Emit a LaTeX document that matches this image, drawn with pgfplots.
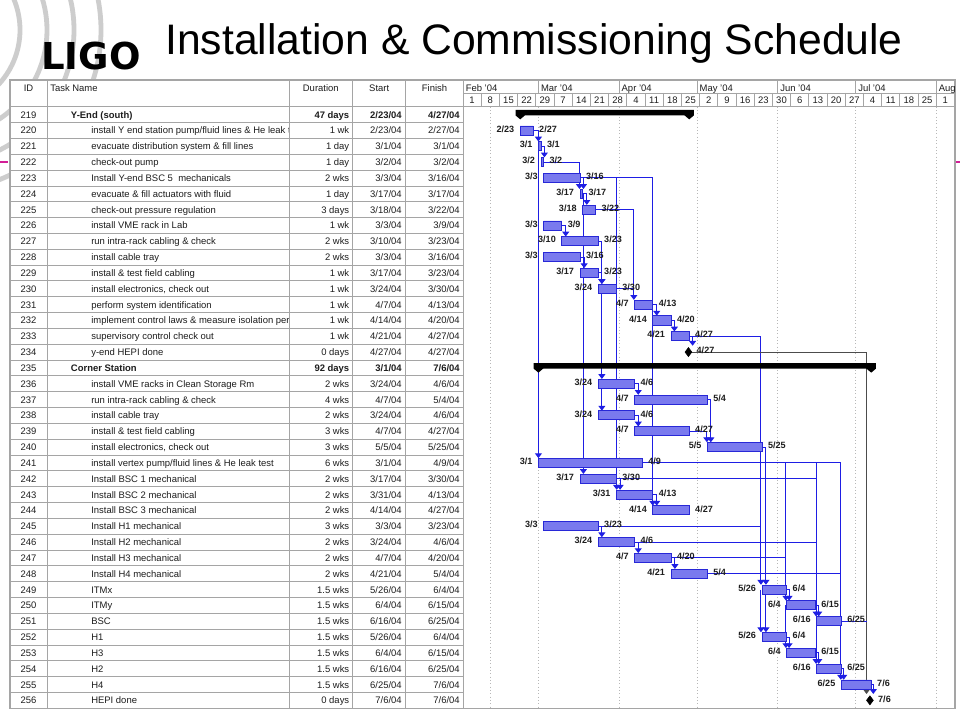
\documentclass[border=0pt]{standalone}
\usepackage{fontspec}
\setmainfont{Liberation Sans}
\newfontfamily\logofont{DejaVu Sans}
\usepackage{pgfplots}
\pgfplotsset{compat=1.18}
\usepackage{pgfplotstable}
\usetikzlibrary{arrows.meta}

\definecolor{barfill}{RGB}{122,122,238}
\definecolor{bardraw}{RGB}{40,40,215}
\definecolor{linkblue}{RGB}{30,30,228}
\definecolor{gridgray}{RGB}{165,165,165}
\definecolor{arcgray}{RGB}{205,205,205}
\definecolor{magenta2}{RGB}{210,30,150}
\definecolor{txt}{RGB}{30,30,30}

\newcommand{\tabfont}{\fontsize{7.1pt}{8.5pt}\selectfont}
\newcommand{\lblfont}{\fontsize{6.8pt}{8pt}\selectfont\bfseries}

% regular tasks: row index, start day, end day (days since 1 Feb 2004), labels
\pgfplotstableread{
row s e sl el
1 22 27 2/23 2/27
2 29 30 3/1 3/1
3 30 31 3/2 3/2
4 31 45 3/3 3/16
5 45 46 3/17 3/17
6 46 51 3/18 3/22
7 31 38 3/3 3/9
8 38 52 3/10 3/23
9 31 45 3/3 3/16
10 45 52 3/17 3/23
11 52 59 3/24 3/30
12 66 73 4/7 4/13
13 73 80 4/14 4/20
14 80 87 4/21 4/27
17 52 66 3/24 4/6
18 66 94 4/7 5/4
19 52 66 3/24 4/6
20 66 87 4/7 4/27
21 94 115 5/5 5/25
22 29 69 3/1 4/9
23 45 59 3/17 3/30
24 59 73 3/31 4/13
25 73 87 4/14 4/27
26 31 52 3/3 3/23
27 52 66 3/24 4/6
28 66 80 4/7 4/20
29 80 94 4/21 5/4
30 115 124.5 5/26 6/4
31 124.5 135.5 6/4 6/15
32 136 145.5 6/16 6/25
33 115 124.5 5/26 6/4
34 124.5 135.5 6/4 6/15
35 136 145.5 6/16 6/25
36 145.5 157 6/25 7/6
}\tasks

\pgfplotstableread{
row d l
15 86.7 4/27
37 156.5 7/6
}\miles

\pgfplotsset{
  gantt/.style={at={(0pt,0pt)}, anchor=north west, scale only axis,
    width=720pt, height=540pt,
    xmin=-178.077, xmax=191.154, ymin=-7.2394, ymax=38.2438,
    y dir=reverse, hide axis, clip=false},
  lnk/.style={color=linkblue, line width=0.75pt, mark=none, -{Triangle[width=5.2pt,length=3.6pt]}},
  lnkplain/.style={color=linkblue, line width=0.75pt, mark=none},
  lnkgray/.style={color=black!70, line width=0.75pt, mark=none, -{Triangle[width=5.2pt,length=3.6pt]}},
}

\newcommand{\trow}[6]{%
  \pgfmathsetmacro{\yy}{114.6+15.83*#1}%
  \node[anchor=mid] at (28.6,\yy) {#2};%
  \begin{scope}\clip (48,\yy-7) rectangle (288.5,\yy+7);
    \node[anchor=mid west] at (91,\yy) {#3};
  \end{scope}
  \node[anchor=mid east] at (349.5,\yy) {#4};
  \node[anchor=mid east] at (402,\yy) {#5};
  \node[anchor=mid east] at (460,\yy) {#6};
}
\newcommand{\srow}[6]{%
  \pgfmathsetmacro{\yy}{114.6+15.83*#1}%
  \node[anchor=mid] at (28.6,\yy) {#2};%
  \node[anchor=mid west,font=\tabfont\bfseries] at (70.7,\yy) {#3};
  \node[anchor=mid east,font=\tabfont\bfseries] at (349.5,\yy) {#4};
  \node[anchor=mid east,font=\tabfont\bfseries] at (402,\yy) {#5};
  \node[anchor=mid east,font=\tabfont\bfseries] at (460,\yy) {#6};
}

\begin{document}
\begin{tikzpicture}
\useasboundingbox (0pt,0pt) rectangle (720pt,-540pt);
\begin{scope}[x=0.75pt,y=-0.75pt]
  \fill[white] (0,0) rectangle (960,720);
  % logo arcs
  \begin{scope}
    \clip (0,0) rectangle (960,720);
    \foreach \r in {80,107,134,161}
      \draw[arcgray, line width=3.6pt] (-60,30) circle[radius=\r];
  \end{scope}
  % slide marks
  \draw[magenta2, line width=2.2pt] (0,162) -- (8,162);
  \draw[magenta2, line width=2.2pt] (952,162) -- (960,162);
  % title and logo
  \node[anchor=base west, inner sep=0pt, font=\fontsize{32pt}{36pt}\selectfont] at (165,55)
    {Installation \& Commissioning Schedule};
  \node[anchor=base west, inner sep=0pt, font=\logofont\bfseries\fontsize{27.8pt}{30pt}\selectfont] at (41,69.5) {LIGO};
  % table background and grid
  \fill[white] (10,80) rectangle (955,708.3);
  \foreach \k in {0,...,38}
    \draw[gridgray, line width=0.5pt] (10,{106.7+15.83*\k}) -- (463.3,{106.7+15.83*\k});
  \foreach \xx in {47.7,289.3,352.7,405.7,463.3}
    \draw[gridgray, line width=0.5pt] (\xx,80) -- (\xx,708.3);
  \draw[gridgray, line width=0.5pt] (463.3,93) -- (955,93);
  \draw[gridgray, line width=0.8pt] (10,106.7) -- (955,106.7);
  \foreach \xx in {538.4,619,697,777.6,855.6,936.2}
    \draw[gridgray, line width=0.5pt] (\xx,80) -- (\xx,93);
  \foreach \k in {1,...,26}
    \draw[gridgray, line width=0.5pt] ({463+18.2*\k},93) -- ({463+18.2*\k},106.7);
  \foreach \xx in {490,538.4,619,697,777.6,855.6,936.2}
    \draw[gridgray!80, dotted, line width=0.5pt] (\xx,106.7) -- (\xx,708.3);
  \draw[gridgray, line width=0.8pt] (10,80) rectangle (955,708.3);
  % headers
  \begin{scope}[every node/.style={inner sep=0pt, font=\tabfont, text=txt}]
    \node[anchor=mid] at (28.6,87.5) {ID};
    \node[anchor=mid west] at (50,87.5) {Task Name};
    \node[anchor=mid] at (320.8,87.5) {Duration};
    \node[anchor=mid] at (379.2,87.5) {Start};
    \node[anchor=mid] at (434.5,87.5) {Finish};
    \foreach \m/\xx in {{Feb '04}/465.5,{Mar '04}/540.8,{Apr '04}/621.4,{May '04}/699.4,{Jun '04}/780,{Jul '04}/858,{Aug}/938.6}
      \node[anchor=mid west] at (\xx,87.5) {\m};
    \foreach \w [count=\k from 0] in {1,8,15,22,29,7,14,21,28,4,11,18,25,2,9,16,23,30,6,13,20,27,4,11,18,25,1}
      \node[anchor=mid] at ({463+18.2*\k+9.1},100) {\w};
    % rows
    \srow{0}{219}{Y-End (south)}{47 days}{2/23/04}{4/27/04}
    \trow{1}{220}{install Y end station pump/fluid lines \& He leak test}{1 wk}{2/23/04}{2/27/04}
    \trow{2}{221}{evacuate distribution system \& fill lines}{1 day}{3/1/04}{3/1/04}
    \trow{3}{222}{check-out pump}{1 day}{3/2/04}{3/2/04}
    \trow{4}{223}{Install Y-end BSC 5\ \ mechanicals}{2 wks}{3/3/04}{3/16/04}
    \trow{5}{224}{evacuate \& fill actuators with fluid}{1 day}{3/17/04}{3/17/04}
    \trow{6}{225}{check-out pressure regulation}{3 days}{3/18/04}{3/22/04}
    \trow{7}{226}{install VME rack in Lab}{1 wk}{3/3/04}{3/9/04}
    \trow{8}{227}{run intra-rack cabling \& check}{2 wks}{3/10/04}{3/23/04}
    \trow{9}{228}{install cable tray}{2 wks}{3/3/04}{3/16/04}
    \trow{10}{229}{install \& test field cabling}{1 wk}{3/17/04}{3/23/04}
    \trow{11}{230}{install electronics, check out}{1 wk}{3/24/04}{3/30/04}
    \trow{12}{231}{perform system identification}{1 wk}{4/7/04}{4/13/04}
    \trow{13}{232}{implement control laws \& measure isolation performance}{1 wk}{4/14/04}{4/20/04}
    \trow{14}{233}{supervisory control check out}{1 wk}{4/21/04}{4/27/04}
    \trow{15}{234}{y-end HEPI done}{0 days}{4/27/04}{4/27/04}
    \srow{16}{235}{Corner Station}{92 days}{3/1/04}{7/6/04}
    \trow{17}{236}{install VME racks in Clean Storage Rm}{2 wks}{3/24/04}{4/6/04}
    \trow{18}{237}{run intra-rack cabling \& check}{4 wks}{4/7/04}{5/4/04}
    \trow{19}{238}{install cable tray}{2 wks}{3/24/04}{4/6/04}
    \trow{20}{239}{install \& test field cabling}{3 wks}{4/7/04}{4/27/04}
    \trow{21}{240}{install electronics, check out}{3 wks}{5/5/04}{5/25/04}
    \trow{22}{241}{install vertex pump/fluid lines \& He leak test}{6 wks}{3/1/04}{4/9/04}
    \trow{23}{242}{Install BSC 1 mechanical}{2 wks}{3/17/04}{3/30/04}
    \trow{24}{243}{Install BSC 2 mechanical}{2 wks}{3/31/04}{4/13/04}
    \trow{25}{244}{Install BSC 3 mechanical}{2 wks}{4/14/04}{4/27/04}
    \trow{26}{245}{Install H1 mechanical}{3 wks}{3/3/04}{3/23/04}
    \trow{27}{246}{Install H2 mechanical}{2 wks}{3/24/04}{4/6/04}
    \trow{28}{247}{Install H3 mechanical}{2 wks}{4/7/04}{4/20/04}
    \trow{29}{248}{Install H4 mechanical}{2 wks}{4/21/04}{5/4/04}
    \trow{30}{249}{ITMx}{1.5 wks}{5/26/04}{6/4/04}
    \trow{31}{250}{ITMy}{1.5 wks}{6/4/04}{6/15/04}
    \trow{32}{251}{BSC}{1.5 wks}{6/16/04}{6/25/04}
    \trow{33}{252}{H1}{1.5 wks}{5/26/04}{6/4/04}
    \trow{34}{253}{H3}{1.5 wks}{6/4/04}{6/15/04}
    \trow{35}{254}{H2}{1.5 wks}{6/16/04}{6/25/04}
    \trow{36}{255}{H4}{1.5 wks}{6/25/04}{7/6/04}
    \trow{37}{256}{HEPI done}{0 days}{7/6/04}{7/6/04}
  \end{scope}
\end{scope}

% ---------- dependency links ----------
\begin{axis}[gantt]
\addplot[lnk] coordinates {(27,1) (29,1) (29,1.7)};
\addplot[lnk] coordinates {(29,2) (29,21.7)};
\addplot[lnk] coordinates {(30,2) (31.3,2) (31.3,2.7)};
\addplot[lnk] coordinates {(31,3) (44.8,3) (44.8,4.7)};
\addplot[lnk] coordinates {(45,4) (46.3,4) (46.3,4.7)};
\addplot[lnk] coordinates {(46.3,5) (46.3,22.7)};
\addplot[lnk] coordinates {(46,5) (47.6,5) (47.6,5.7)};
\addplot[lnk] coordinates {(45,4) (59.1,4) (59.1,23.7)};
\addplot[lnk] coordinates {(59.1,4) (73,4) (73,24.7)};
\addplot[lnk] coordinates {(51,6) (65.7,6) (65.7,11.7)};
\addplot[lnkplain] coordinates {(59,11) (65.7,11)};
\addplot[lnk] coordinates {(38,7) (39.5,7) (39.5,7.7)};
\addplot[lnk] coordinates {(52,8) (53.4,8) (53.4,10.7)};
\addplot[lnk] coordinates {(53.4,11) (53.4,16.7)};
\addplot[lnk] coordinates {(53.4,17) (53.4,18.7)};
\addplot[lnk] coordinates {(45,9) (46.6,9) (46.6,9.7)};
\addplot[lnk] coordinates {(52,10) (53.4,10) (53.4,10.7)};
\addplot[lnk] coordinates {(73,12) (74.5,12) (74.5,12.7)};
\addplot[lnk] coordinates {(80,13) (81.3,13) (81.3,13.7)};
\addplot[lnk] coordinates {(87,14) (88.3,14) (88.3,14.6)};
\addplot[lnk] coordinates {(87,14) (114.6,14) (114.6,29.7)};
\addplot[lnk] coordinates {(114.6,30) (114.6,32.7)};
\addplot[lnkgray] coordinates {(86.7,15) (155.2,15) (155.2,36.6)};
\addplot[lnk] coordinates {(66,17) (67.4,17) (67.4,17.7)};
\addplot[lnk] coordinates {(66,19) (67.4,19) (67.4,19.7)};
\addplot[lnk] coordinates {(94,18) (95.3,18) (95.3,20.7)};
\addplot[lnk] coordinates {(87,20) (93.8,20) (93.8,20.7)};
\addplot[lnk] coordinates {(115,21) (116.5,21) (116.5,29.7)};
\addplot[lnk] coordinates {(116.5,30) (116.5,32.7)};
\addplot[lnkplain] coordinates {(69,22) (145.3,22)};
\addplot[lnk] coordinates {(124.2,22) (124.2,30.7)};
\addplot[lnk] coordinates {(124.2,31) (124.2,33.7)};
\addplot[lnk] coordinates {(135.8,22) (135.8,31.7)};
\addplot[lnk] coordinates {(135.8,32) (135.8,34.7)};
\addplot[lnk] coordinates {(145.3,22) (145.3,35.7)};
\addplot[lnkplain] coordinates {(59,23) (135.8,23)};
\addplot[lnk] coordinates {(59,23) (60.4,23) (60.4,23.7)};
\addplot[lnk] coordinates {(73,24) (74.5,24) (74.5,24.7)};
\addplot[lnkplain] coordinates {(52,26) (114.6,26)};
\addplot[lnk] coordinates {(52,26) (53.4,26) (53.4,26.7)};
\addplot[lnkplain] coordinates {(66,27) (135.8,27)};
\addplot[lnk] coordinates {(66,27) (67.4,27) (67.4,27.7)};
\addplot[lnkplain] coordinates {(80,28) (124.2,28)};
\addplot[lnk] coordinates {(80,28) (81.5,28) (81.5,28.7)};
\addplot[lnkplain] coordinates {(94,29) (145.3,29)};
\addplot[lnk] coordinates {(124.5,30) (125.4,30) (125.4,30.7)};
\addplot[lnk] coordinates {(135.5,31) (136.8,31) (136.8,31.7)};
\addplot[lnkplain] coordinates {(145.5,32) (155.2,32)};
\addplot[lnk] coordinates {(124.5,33) (125.4,33) (125.4,33.7)};
\addplot[lnk] coordinates {(135.5,34) (136.8,34) (136.8,34.7)};
\addplot[lnk] coordinates {(145.5,35) (146.4,35) (146.4,35.7)};
\addplot[lnk] coordinates {(157,36) (157.8,36) (157.8,36.6)};
\end{axis}

% ---------- task bars ----------
\begin{axis}[gantt, xbar stacked, bar width=0.57]
\addplot[draw=none, fill=none] table[x=s, y=row] {\tasks};
\addplot[draw=bardraw, fill=barfill, line width=0.6pt] table[x expr=\thisrow{e}-\thisrow{s}, y=row] {\tasks};
\end{axis}

% ---------- summaries, milestones, labels ----------
\begin{axis}[gantt]
\addplot[fill=black, draw=none] coordinates {(20.2,-0.3) (88.8,-0.3) (88.8,0.05) (87,0.3) (85.2,0.05) (23.8,0.05) (22,0.3) (20.2,0.05)} -- cycle;
\addplot[fill=black, draw=none] coordinates {(27.2,15.7) (158.8,15.7) (158.8,16.05) (157,16.3) (155.2,16.05) (30.8,16.05) (29,16.3) (27.2,16.05)} -- cycle;
\addplot[only marks, mark=diamond*, mark size=3.4pt, black] table[x=d, y=row] {\miles};
\addplot[only marks, mark=none, nodes near coords, point meta=explicit symbolic,
  nodes near coords style={anchor=east, xshift=-4.3pt, yshift=1.1pt, inner sep=0pt, font=\lblfont, text=txt}]
  table[x=s, y=row, meta=sl] {\tasks};
\addplot[only marks, mark=none, nodes near coords, point meta=explicit symbolic,
  nodes near coords style={anchor=west, xshift=4.3pt, yshift=1.1pt, inner sep=0pt, font=\lblfont, text=txt}]
  table[x=e, y=row, meta=el] {\tasks};
\addplot[only marks, mark=none, nodes near coords, point meta=explicit symbolic,
  nodes near coords style={anchor=west, xshift=6pt, yshift=1.1pt, inner sep=0pt, font=\lblfont, text=txt}]
  table[x=d, y=row, meta=l] {\miles};
\end{axis}
\end{tikzpicture}
\end{document}
